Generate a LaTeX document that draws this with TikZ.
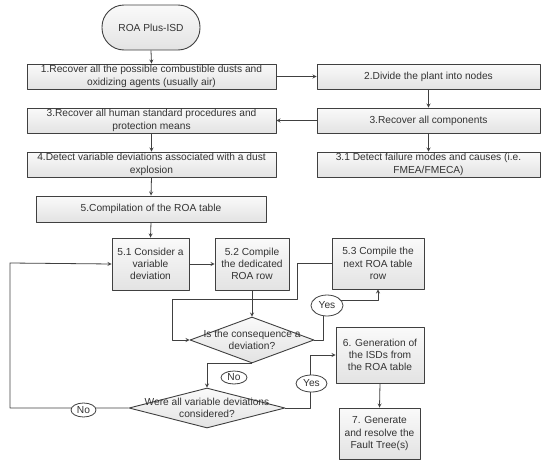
\documentclass[tikz,border=0pt]{standalone}
\usepackage{fontspec}
\setmainfont{Liberation Sans}
\usetikzlibrary{shapes.geometric}
\begin{document}
\begin{tikzpicture}[x=1pt, y=-1pt, line join=round, >=stealth,
	font=\fontsize{10.2}{12.3}\selectfont, text=black!80,
	box/.style={draw=black!75, line width=0.9pt, top color=gray!4, bottom color=gray!22, inner sep=0pt, align=center},
	dec/.style={diamond, draw=black!75, line width=0.9pt, top color=gray!4, bottom color=gray!22, inner sep=0pt},
	ans/.style={ellipse, draw=black!75, line width=0.8pt, fill=white, inner sep=0pt},
	line/.style={draw=black!75, line width=0.8pt}]
	\useasboundingbox (0,0) rectangle (550,466);
	% top part
	\node[box, rounded corners=22pt, minimum width=98pt, minimum height=45pt] (start) at (151,27.5) {ROA Plus-ISD};
	\node[box, minimum width=249pt, minimum height=25pt] (s1) at (151.5,76.5) {1.Recover all the possible combustible dusts and\\oxidizing agents (usually air)};
	\node[box, minimum width=223pt, minimum height=25pt] (s2) at (428.5,76.5) {2.Divide the plant into nodes};
	\node[box, minimum width=223pt, minimum height=25pt] (s3r) at (428.5,120.5) {3.Recover all components};
	\node[box, minimum width=249pt, minimum height=25pt] (s3l) at (151.5,120.5) {3.Recover all human standard procedures and\\protection means};
	\node[box, minimum width=249pt, minimum height=25pt] (s4) at (151.5,164.5) {4.Detect variable deviations associated with a dust\\explosion};
	\node[box, minimum width=223pt, minimum height=25pt] (s31) at (428.5,164.5) {3.1 Detect failure modes and causes (i.e.\\FMEA/FMECA)};
	\node[box, minimum width=230pt, minimum height=26pt] (s5) at (151,209) {5.Compilation of the ROA table};
	% loop
	\node[box, minimum width=77pt, minimum height=52pt] (s51) at (150.5,264) {5.1 Consider a\\variable\\deviation};
	\node[box, minimum width=74pt, minimum height=52pt] (s52) at (252,264) {5.2 Compile\\the dedicated\\ROA row};
	\node[box, minimum width=92pt, minimum height=51pt] (s53) at (378,263.5) {5.3 Compile the\\next ROA table\\row};
	\node[dec, minimum width=124pt, minimum height=46pt] (d1) at (252,340) {};
	\node[align=center] (d1t) at (d1) {Is the consequence a\\deviation?};
	\node[dec, minimum width=156pt, minimum height=40pt] (d2) at (207,408) {};
	\node[align=center] (d2t) at (d2) {Were all variable deviations\\considered?};
	\node[box, minimum width=88pt, minimum height=56pt] (s6) at (380,355) {6. Generation of\\the ISDs from\\the ROA table};
	\node[box, minimum width=81pt, minimum height=51pt] (s7) at (379.5,433.5) {7. Generate\\and resolve the\\Fault Tree(s)};
	% connectors
	\foreach \a/\b in {start/s1,s2/s3r,s3r/s31,s3l/s4,s4/s5,s5/s51,s52/d1,s6/s7}{
		\draw[line,->] (\a.south)--(\b.north);
	}
	\draw[line,->] (s1.east)--(s2.west);
	\draw[line,->] (s3r.west)--(s3l.east);
	\draw[line,->] (s51.east)--(s52.west);
	\draw[line,->] (s53.west) -| (297,299) -| (172,340) -- (d1.west);
	\draw[line,->] (d1.east) -| (323,300) -| (s53.south);
	\draw[line,->] (d1.south) -| (d2.north);
	\draw[line,->] (d2.west) -| (10,263) -- (s51.west);
	\draw[line,->] (d2.east) -| (310,355) -- (s6.west);
	% answers
	\node[ans, minimum width=32pt, minimum height=21pt] (y1) at (327,305.5) {Yes};
	\node[ans, minimum width=26pt, minimum height=13pt] (n1) at (234,377.5) {No};
	\node[ans, minimum width=31pt, minimum height=17pt] (y2) at (311.5,383.5) {Yes};
	\node[ans, minimum width=25pt, minimum height=14pt] (n2) at (83.5,410) {No};
\end{tikzpicture}
\end{document}
